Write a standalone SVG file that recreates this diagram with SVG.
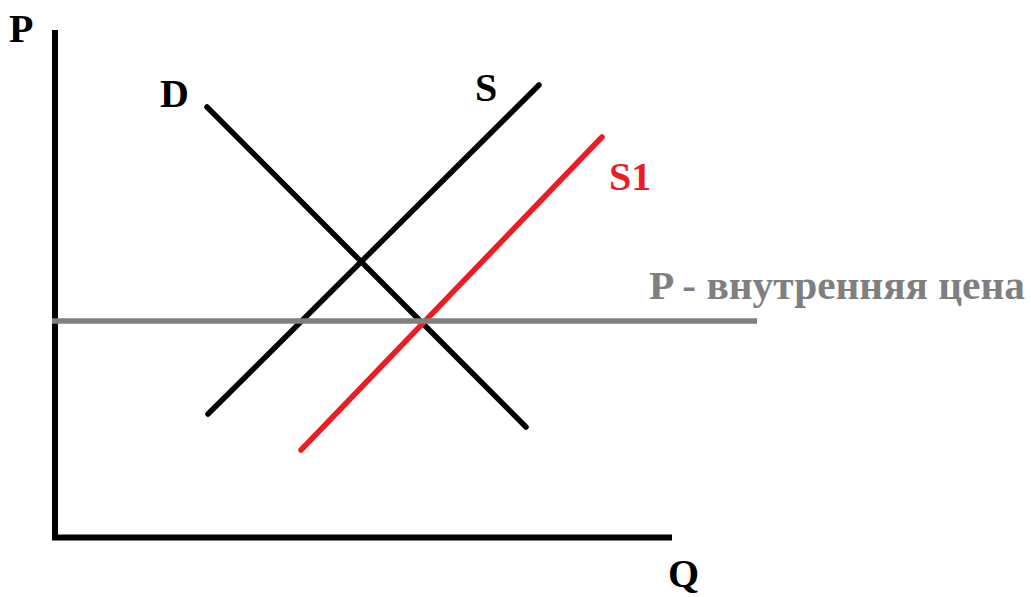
<svg xmlns="http://www.w3.org/2000/svg" width="1031" height="597" viewBox="0 0 1031 597">
<style>
.lbl{font-family:"Liberation Serif","Times New Roman",serif;font-weight:bold;font-size:40px;fill:#000}
.axis{fill:none;stroke:#000;stroke-width:6;stroke-linejoin:miter;stroke-linecap:butt}
.curve{fill:none;stroke:#000;stroke-width:5.5;stroke-linecap:round}
</style>
<rect width="1031" height="597" fill="#fff"/>
<g id="axes">
<path class="axis" d="M55,30 V537.5 H672"/>
<text id="label-P" class="lbl" x="9" y="42">P</text>
<text id="label-Q" class="lbl" x="668" y="587">Q</text>
</g>
<g id="connectors">
<line id="line-D" class="curve" x1="207" y1="107" x2="526" y2="427"/>
<line id="line-S" class="curve" x1="208" y1="414" x2="539" y2="85"/>
<line id="line-S1" class="curve" style="stroke:#ed1c24" x1="301" y1="450" x2="602" y2="137"/>
<line id="line-price" x1="52" y1="321" x2="757" y2="321" stroke="#7f7f7f" stroke-width="5.5"/>
</g>
<g id="node-D"><text class="lbl" x="160" y="107">D</text></g>
<g id="node-S"><text class="lbl" x="475" y="101">S</text></g>
<g id="node-S1"><text class="lbl" style="fill:#ed1c24" x="609" y="190">S1</text></g>
<g id="node-price"><text class="lbl" style="fill:#7f7f7f" x="649" y="299" textLength="376" lengthAdjust="spacingAndGlyphs">P - внутренняя цена</text></g>
</svg>
